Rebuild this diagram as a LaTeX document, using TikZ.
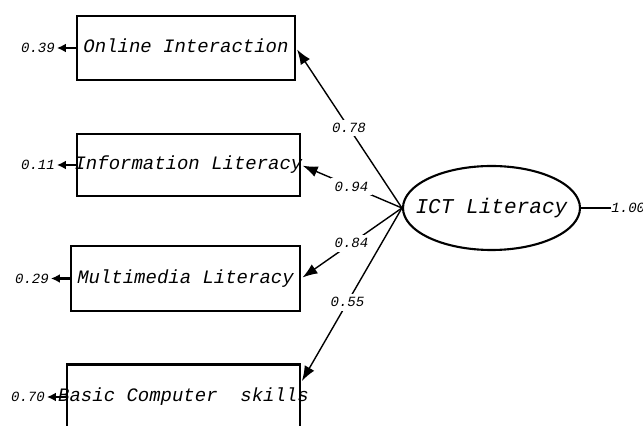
\documentclass[tikz,border=0pt]{standalone}
\usepackage{fontspec}
\setmonofont{Liberation Mono}
\usetikzlibrary{positioning,arrows.meta,shapes.geometric}
\begin{document}
\begin{tikzpicture}[
    node distance=0.3cm,
    indicator/.style={rectangle, draw, line width=1.2pt, minimum height=1.28cm, font=\fontsize{10.8}{12}\ttfamily\itshape},
    latent/.style={ellipse, draw, line width=1.2pt, inner sep=0pt, minimum width=3.54cm, minimum height=1.68cm, font=\fontsize{12}{14}\ttfamily\itshape},
    est/.style={font=\fontsize{8}{9}\ttfamily\itshape, inner sep=1pt},
    coef/.style={est, fill=white, inner sep=2pt},
    loading/.style={thick, shorten >=1pt, -{Latex[length=3mm, width=2.2mm]}},
    resid/.style={line width=1.6pt, -{Latex[length=1.8mm, width=1.8mm]}}
]
    \useasboundingbox (0,0) rectangle (12.86,-8.52);
    \clip (0,0) rectangle (12.86,-8.52);

    % Indicators
    \node [indicator, minimum width=4.36cm] (online) at (3.72,-0.96) {\makebox[0pt]{\raisebox{3pt}{Online Interaction}}};
    \node [indicator, minimum width=4.46cm, minimum height=1.24cm] (info) at (3.77,-3.30) {\makebox[0pt]{\raisebox{1.5pt}{Information Literacy}}};
    \node [indicator, minimum width=4.58cm, minimum height=1.30cm] (multi) at (3.71,-5.57) {\makebox[0pt]{\raisebox{2pt}{Multimedia Literacy}}};
    \node [indicator, minimum width=4.66cm, minimum height=1.30cm] (basic) at (3.67,-7.94) {\makebox[0pt]{Basic Computer\ \ skills}};

    % Latent variable
    \node [latent] (ict) at (9.83,-4.16) {\makebox[0pt]{ICT Literacy}};

    % Error terms
    \node [est, left=0.38cm of online] (e1) {0.39};
    \node [est, left=0.38cm of info] (e2) {0.11};
    \node [est, left=0.38cm of multi] (e3) {0.29};
    \node [est, left=0.38cm of basic] (e4) {0.70};
    \node [est, inner sep=0pt, right=0.6cm of ict] (var) {1.00};

    % Loadings
    \draw [loading] (ict.west) -- node [coef] {0.78} (online.east);
    \draw [loading] (ict.west) -- node [coef] {0.94} (info.east);
    \draw [loading] (ict.west) -- node [coef] {0.84} (multi.east);
    \draw [loading] (ict.west) -- node [coef, pos=0.54] {0.55} (basic.7);

    % Residuals
    \draw [resid] (online) -- (e1);
    \draw [resid] (info) -- (e2);
    \draw [resid] (multi) -- (e3);
    \draw [resid] (basic) -- (e4);
    \draw [line width=1.2pt] (ict) -- (var);
\end{tikzpicture}
\end{document}
